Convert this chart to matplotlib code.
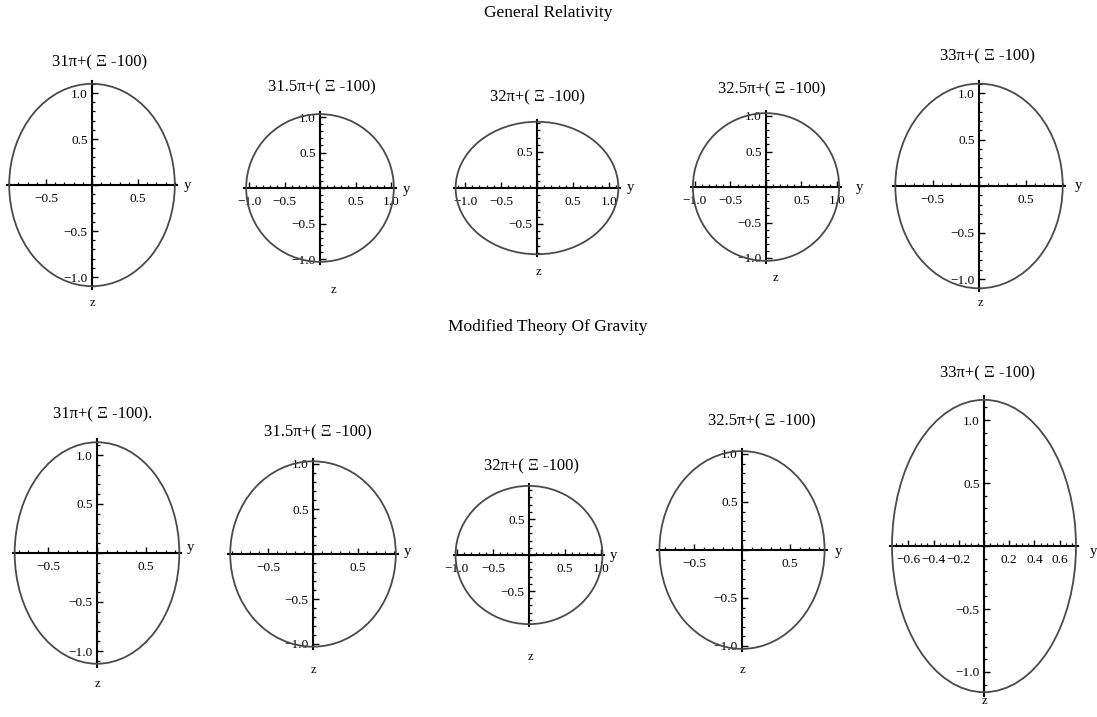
import matplotlib
matplotlib.use("Agg")
import matplotlib.pyplot as plt
from matplotlib.patches import Ellipse
from matplotlib.ticker import MultipleLocator, FuncFormatter

# ---------------- data ----------------
row_titles = ["General Relativity", "Modified Theory Of Gravity"]
panel_titles = [
    "31π+( Ξ -100)", "31.5π+( Ξ -100)", "32π+( Ξ -100)", "32.5π+( Ξ -100)", "33π+( Ξ -100)",
    "31π+( Ξ -100).", "31.5π+( Ξ -100)", "32π+( Ξ -100)", "32.5π+( Ξ -100)", "33π+( Ξ -100)",
]
# semi-axis along y (horizontal) and along z (vertical)
semi_y = [0.90, 1.04, 1.13, 1.03, 0.90, 0.84, 0.92, 1.02, 0.86, 0.73]
semi_z = [1.10, 1.04, 0.92, 1.04, 1.10, 1.13, 1.03, 0.96, 1.03, 1.16]
major_step = [0.5, 0.5, 0.5, 0.5, 0.5, 0.5, 0.5, 0.5, 0.5, 0.2]
minor_step = [0.1, 0.1, 0.1, 0.1, 0.1, 0.1, 0.1, 0.1, 0.1, 0.05]
zmajor_step = [0.5] * 10
zminor_step = [0.1] * 10

# ---------------- layout (pixels) ----------------
W, H = 1097, 717
# center x, center y, pixels per unit
centers = [(92, 185, 92), (320, 188, 71), (537, 188, 72), (766, 187, 71), (979, 186, 93),
           (97, 553, 98), (313, 554, 90), (529, 555, 72), (742, 550, 96), (984, 546, 126)]
title_pos = [(100, 62), (322, 87), (538, 97), (772, 89), (987, 56),
             (103, 414), (318, 432), (531, 466), (762, 421), (987, 373)]
ylab_pos = [(187, 186), (406, 190), (630, 188), (859, 187), (1078, 185),
            (190, 548), (407, 552), (613, 555), (838, 551), (1093, 551)]
zlab_pos = [(92, 303), (333, 290), (538, 272), (775, 278), (980, 303),
            (97, 684), (313, 670), (530, 657), (742, 670), (984, 701)]

SERIF = ["Liberation Serif", "DejaVu Serif"]
plt.rcParams["font.family"] = SERIF

fig = plt.figure(figsize=(W / 100, H / 100), dpi=100)
fig.patch.set_facecolor("white")


def fmt(v, pos):
    if abs(v) < 1e-9:
        return ""
    s = f"{abs(v):.1f}"
    return ("\u2212" + s) if v < 0 else s


pad = 1.025
for i in range(10):
    cx, cy, s = centers[i]
    A = semi_y[i] * pad
    B = semi_z[i] * pad
    ax = fig.add_axes([(cx - A * s) / W, (H - cy - B * s) / H, 2 * A * s / W, 2 * B * s / H])
    ax.set_xlim(-A, A)
    ax.set_ylim(-B, B)
    ax.set_facecolor("none")
    ax.add_patch(Ellipse((0, 0), 2 * semi_y[i], 2 * semi_z[i], fill=False,
                         edgecolor="#4a4a4a", lw=1.3, zorder=3))
    for sp in ("top", "right"):
        ax.spines[sp].set_visible(False)
    ax.spines["left"].set_position(("data", 0))
    ax.spines["bottom"].set_position(("data", 0))
    for sp in ("left", "bottom"):
        ax.spines[sp].set_linewidth(1.5)
        ax.spines[sp].set_color("black")
    ax.xaxis.set_major_locator(MultipleLocator(major_step[i]))
    ax.xaxis.set_minor_locator(MultipleLocator(minor_step[i]))
    ax.yaxis.set_major_locator(MultipleLocator(zmajor_step[i]))
    ax.yaxis.set_minor_locator(MultipleLocator(zminor_step[i]))
    ax.xaxis.set_major_formatter(FuncFormatter(fmt))
    ax.yaxis.set_major_formatter(FuncFormatter(fmt))
    ax.tick_params(which="major", direction="in", length=4.5, width=1.0, labelsize=9.5,
                   colors="black")
    ax.tick_params(axis="x", which="major", pad=6)
    ax.tick_params(axis="y", which="major", pad=3)
    ax.tick_params(which="minor", direction="in", length=2.5, width=0.9)
    for lab in ax.get_xticklabels() + ax.get_yticklabels():
        lab.set_family(SERIF)

    tx, ty = title_pos[i]
    fig.text(tx / W, 1 - ty / H, panel_titles[i], ha="center", va="center", fontsize=12,
             family=SERIF)
    yx, yy = ylab_pos[i]
    fig.text(yx / W, 1 - yy / H, "y", ha="center", va="center", fontsize=10.5, family=SERIF)
    zx, zy = zlab_pos[i]
    fig.text(zx / W, 1 - zy / H, "z", ha="center", va="center", fontsize=9, family=SERIF)

fig.text(548 / W, 1 - 13 / H, row_titles[0], ha="center", va="center", fontsize=12.5, family=SERIF)
fig.text(548 / W, 1 - 327 / H, row_titles[1], ha="center", va="center", fontsize=12.5, family=SERIF)

fig.savefig("out.png", dpi=100, facecolor="white")
